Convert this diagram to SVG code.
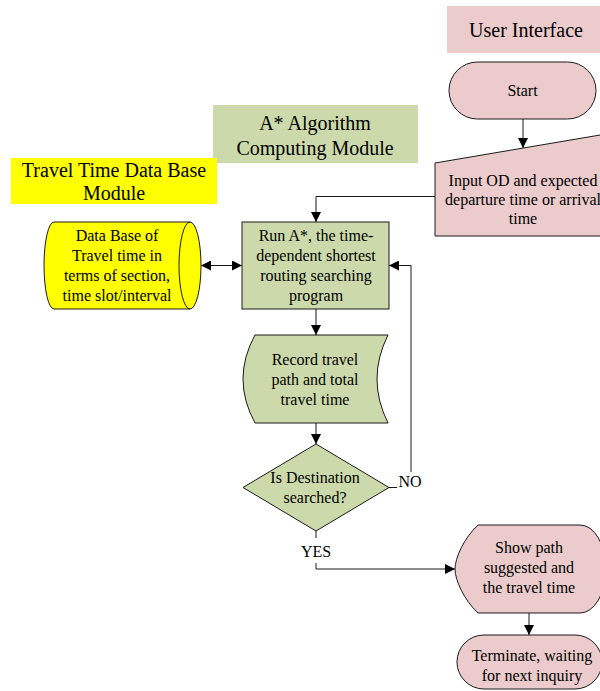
<svg xmlns="http://www.w3.org/2000/svg" width="600" height="691" viewBox="0 0 600 691" font-family="Liberation Serif">
<style>
.t{font-family:'Liberation Serif','Times New Roman',serif;font-size:16px;fill:#000;text-anchor:middle}
.h{font-family:'Liberation Serif','Times New Roman',serif;font-size:20px;fill:#000;text-anchor:middle}
.pk{fill:#ebcbcb;stroke:#1a1a1a;stroke-width:1}
.gr{fill:#ccdaab;stroke:#1a1a1a;stroke-width:1}
.yl{fill:#ffff00;stroke:#1a1a1a;stroke-width:1}
.c{fill:none;stroke:#1a1a1a;stroke-width:1}
</style>
<defs>
<marker id="ah" viewBox="0 0 10 10" refX="10" refY="5" markerWidth="11" markerHeight="10" markerUnits="userSpaceOnUse" orient="auto-start-reverse">
<path d="M0,0 L10,5 L0,10 Z" fill="#000"/>
</marker>
</defs>
<rect width="600" height="691" fill="#fff"/>

<g id="label-ui">
<rect x="447" y="6" width="160" height="47" fill="#ebcbcb"/>
<text class="h" x="526" y="37">User Interface</text>
</g>
<g id="label-astar">
<rect x="213" y="105" width="205" height="58" fill="#ccdaab"/>
<text class="h" x="315" y="130">A* Algorithm</text>
<text class="h" x="315" y="155">Computing Module</text>
</g>
<g id="label-db">
<rect x="11" y="158" width="206" height="46" fill="#ffff00"/>
<text class="h" x="114" y="177">Travel Time Data Base</text>
<text class="h" x="114" y="200">Module</text>
</g>

<g id="connectors">
<line class="c" x1="523" y1="119" x2="523" y2="148" marker-end="url(#ah)"/>
<polyline class="c" points="435,196.5 316,196.5 316,222" marker-end="url(#ah)"/>
<line class="c" x1="201" y1="265.5" x2="242" y2="265.5" marker-start="url(#ah)" marker-end="url(#ah)"/>
<line class="c" x1="316" y1="309" x2="316" y2="335" marker-end="url(#ah)"/>
<line class="c" x1="316" y1="423" x2="316" y2="444" marker-end="url(#ah)"/>
<line class="c" x1="389" y1="487.5" x2="397" y2="487.5"/>
<polyline class="c" points="411,472 411,265.5 389,265.5" marker-end="url(#ah)"/>
<line class="c" x1="316" y1="531" x2="316" y2="538"/>
<polyline class="c" points="316,563 316,569 455,569" marker-end="url(#ah)"/>
<line class="c" x1="529" y1="613" x2="529" y2="635" marker-end="url(#ah)"/>
<text class="t" x="410" y="487">NO</text>
<text class="t" x="316" y="557">YES</text>
</g>

<g id="start">
<rect class="pk" x="449" y="62" width="147" height="57" rx="28.5"/>
<text class="t" x="522.5" y="96">Start</text>
</g>
<g id="input">
<polygon class="pk" points="435,163 612,133 612,236 435,236"/>
<text class="t" x="523" y="186">Input OD and expected</text>
<text class="t" x="523" y="205">departure time or arrival</text>
<text class="t" x="523" y="224">time</text>
</g>
<g id="database">
<path class="yl" d="M54,222 L190,222 A11,43.5 0 0 1 190,309 L54,309 A10,43.5 0 0 1 54,222 Z"/>
<path class="c" d="M190,222 A11,43.5 0 0 0 190,309"/>
<text class="t" x="117" y="241">Data Base of</text>
<text class="t" x="117" y="261">Travel time in</text>
<text class="t" x="117" y="281">terms of section,</text>
<text class="t" x="117" y="301">time slot/interval</text>
</g>
<g id="run-astar">
<rect class="gr" x="242" y="222" width="147" height="87"/>
<text class="t" x="316" y="241">Run A*, the time-</text>
<text class="t" x="316" y="261">dependent shortest</text>
<text class="t" x="316" y="281">routing searching</text>
<text class="t" x="316" y="301">program</text>
</g>
<g id="record">
<path class="gr" d="M255,335 L388,335 Q366,379 388,423 L255,423 Q231,379 255,335 Z"/>
<text class="t" x="315" y="365">Record travel</text>
<text class="t" x="315" y="385">path and total</text>
<text class="t" x="315" y="405">travel time</text>
</g>
<g id="decision">
<polygon class="gr" points="316,444 389,487.5 316,531 243,487.5"/>
<text class="t" x="315" y="483">Is Destination</text>
<text class="t" x="315" y="503">searched?</text>
</g>
<g id="show-path">
<path class="pk" d="M478,525 L580,525 A26,44 0 0 1 580,613 L478,613 C464,600 455,580 455,569 C455,558 464,538 478,525 Z"/>
<text class="t" x="529" y="553">Show path</text>
<text class="t" x="529" y="573">suggested and</text>
<text class="t" x="529" y="593">the travel time</text>
</g>
<g id="terminate">
<rect class="pk" x="457" y="635" width="145" height="54" rx="27"/>
<text class="t" x="532" y="661">Terminate, waiting</text>
<text class="t" x="532" y="681">for next inquiry</text>
</g>
</svg>
